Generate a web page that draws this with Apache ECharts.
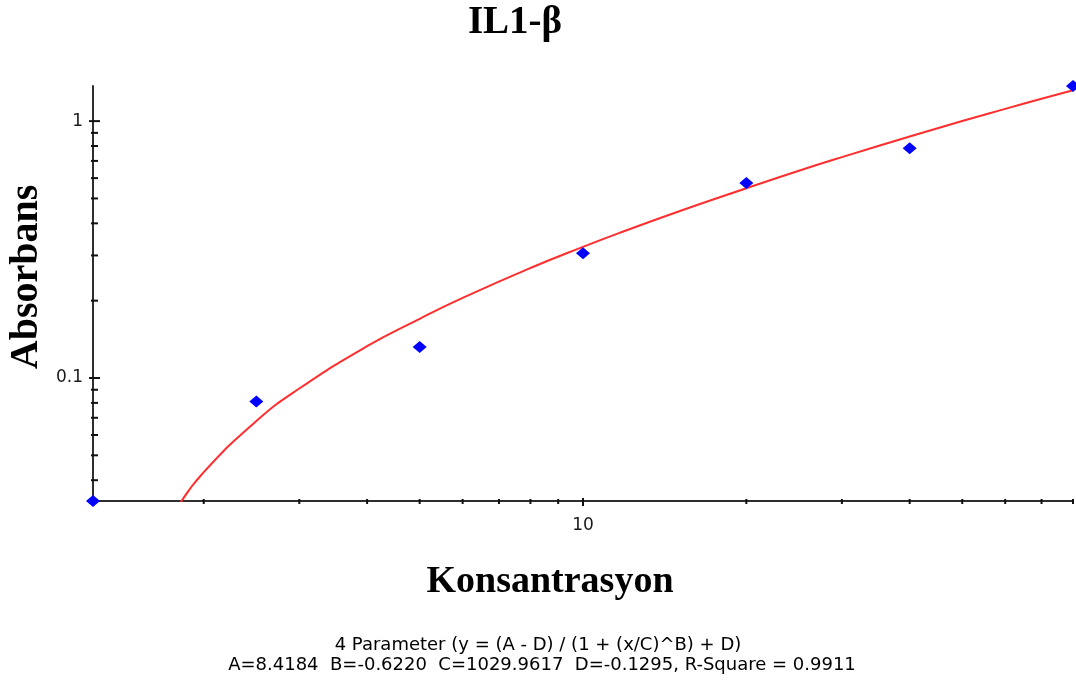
<!DOCTYPE html>
<html>
<head>
<meta charset="utf-8">
<script src="https://cdn.jsdelivr.net/npm/echarts@6/dist/echarts.min.js"></script>
<style>
html,body{margin:0;padding:0;background:#fff;}
#chart{width:1076px;height:680px;}
</style>
</head>
<body>
<div id="chart"></div>
<script>
// ---- data ----
const chartTitle = 'IL1-β';
const xName = 'Konsantrasyon';
const yName = 'Absorbans';
const fitLine1 = '4 Parameter (y = (A - D) / (1 + (x/C)^B) + D)';
const fitLine2 = 'A=8.4184  B=-0.6220  C=1029.9617  D=-0.1295, R-Square = 0.9911';

const pointX = [1.25, 2.5, 5, 10, 20, 40, 80];
const pointY = [0.0332, 0.081, 0.132, 0.306, 0.574, 0.785, 1.37];

const curveX = [1.8, 2, 2.5, 3, 4, 5, 6, 8, 10, 12, 15, 20, 25, 30, 40, 50, 60, 70, 80];
const curveY = [0.032, 0.043, 0.068, 0.091, 0.133, 0.170, 0.205, 0.268, 0.324, 0.375, 0.445, 0.548, 0.641, 0.724, 0.871, 1.001, 1.116, 1.222, 1.319];

const xMin = 1.25, xMax = 80;
const yMin = 0.0332, yMax = 1.37;
const xTickValues = [2, 3, 4, 5, 6, 7, 8, 9, 10, 20, 30, 40, 50, 60, 70, 80];
const yTickValues = [0.04, 0.05, 0.06, 0.07, 0.08, 0.09, 0.1, 0.2, 0.3, 0.4, 0.5, 0.6, 0.7, 0.8, 0.9, 1];
const xLabelValues = [10];
const yLabelValues = [0.1, 1];

// ---- chart ----
const chart = echarts.init(document.getElementById('chart'), null, {renderer: 'canvas'});
const axisColor = '#2e2e2e';
const isMajor = v => Math.abs(Math.log10(v) - Math.round(Math.log10(v))) < 1e-6;
const near = (v, list) => list.some(t => Math.abs(v - t) / t < 1e-6);

const option = {
  backgroundColor: '#fff',
  animation: false,
  grid: {left: 93, right: 3, top: 86, bottom: 179, containLabel: false},
  xAxis: {
    type: 'log', logBase: 10, min: xMin, max: xMax,
    axisLine: {show: true, lineStyle: {color: axisColor, width: 2}},
    axisTick: {show: false},
    splitLine: {show: false},
    axisLabel: {
      show: true, margin: 16, color: '#1a1a1a',
      fontFamily: 'DejaVu Sans', fontSize: 17,
      showMinLabel: false, showMaxLabel: false,
      formatter: v => near(v, xLabelValues) ? String(Math.round(v)) : ''
    }
  },
  yAxis: {
    type: 'log', logBase: 10, min: yMin, max: yMax,
    axisLine: {show: true, lineStyle: {color: axisColor, width: 2}},
    axisTick: {show: false},
    splitLine: {show: false},
    axisLabel: {
      show: true, margin: 10, color: '#1a1a1a',
      fontFamily: 'DejaVu Sans', fontSize: 17,
      showMinLabel: false, showMaxLabel: false,
      formatter: v => near(v, yLabelValues) ? (v >= 1 ? '1' : '0.1') : ''
    }
  },
  graphic: [
    {type: 'text', x: 515, y: 23, style: {text: chartTitle, align: 'center', verticalAlign: 'middle', font: 'bold 39px "Liberation Serif"', fill: '#000'}},
    {type: 'text', x: 550, y: 582, style: {text: xName, align: 'center', verticalAlign: 'middle', font: 'bold 38px "Liberation Serif"', fill: '#000'}},
    {type: 'text', x: 27, y: 277, rotation: Math.PI / 2, style: {text: yName, align: 'center', verticalAlign: 'middle', font: 'bold 40px "Liberation Serif"', fill: '#000'}},
    {type: 'text', x: 538, y: 645, style: {text: fitLine1, align: 'center', verticalAlign: 'middle', font: '18px "DejaVu Sans"', fill: '#000'}},
    {type: 'text', x: 542, y: 665, style: {text: fitLine2, align: 'center', verticalAlign: 'middle', font: '18px "DejaVu Sans"', fill: '#000'}}
  ],
  series: [
    {
      name: 'fit', type: 'line', smooth: true, showSymbol: false, symbol: 'none',
      data: curveX.map((x, i) => [x, curveY[i]]),
      lineStyle: {color: '#ff2e2e', width: 2},
      clip: true, z: 2
    },
    {
      name: 'points', type: 'scatter', symbol: 'diamond', symbolSize: [14, 12],
      data: pointX.map((x, i) => [x, pointY[i]]),
      itemStyle: {color: '#0000ff', opacity: 1},
      clip: false, z: 5
    },
    {
      name: 'xticks', type: 'custom', coordinateSystem: 'cartesian2d', clip: false, silent: true, z: 4,
      data: xTickValues.map(v => [v, yMin]),
      renderItem: (params, api) => {
        const v = api.value(0);
        const p = api.coord([v, api.value(1)]);
        const major = isMajor(v);
        return {type: 'line', shape: {x1: p[0], y1: p[1] - (major ? 3 : 2), x2: p[0], y2: p[1] + (major ? 5 : 3)},
          style: {stroke: '#111', lineWidth: 2}};
      }
    },
    {
      name: 'yticks', type: 'custom', coordinateSystem: 'cartesian2d', clip: false, silent: true, z: 4,
      data: yTickValues.map(v => [xMin, v]),
      renderItem: (params, api) => {
        const v = api.value(1);
        const p = api.coord([api.value(0), v]);
        const major = isMajor(v);
        return {type: 'line', shape: {x1: p[0] - (major ? 4 : 2), y1: p[1], x2: p[0] + (major ? 7 : 5), y2: p[1]},
          style: {stroke: '#111', lineWidth: 2}};
      }
    }
  ]
};
chart.setOption(option);
</script>
</body>
</html>
